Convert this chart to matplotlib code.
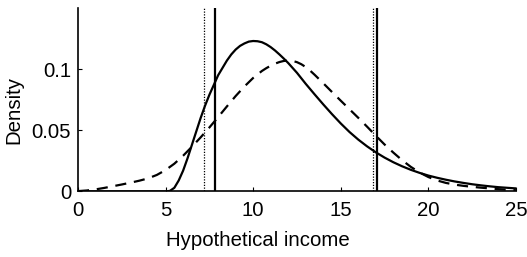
import numpy as np
import matplotlib
matplotlib.use('Agg')
import matplotlib.pyplot as plt

plt.rcParams['font.family'] = ['Liberation Sans', 'DejaVu Sans']

# solid curve, values
income_solid = [0, 1, 2, 3, 4, 5.0, 5.25, 5.5, 5.75, 6.0, 6.25, 6.5, 6.75, 7.0, 7.25,
                7.5, 7.75, 8.0, 8.25, 8.5, 8.75, 9.0, 9.25, 9.5, 9.75, 10.0, 10.25,
                10.5, 10.75, 11.0, 11.25, 11.5, 11.75, 12.0, 12.25, 12.5, 12.75, 13.0,
                13.5, 14.0, 14.5, 15.0, 15.5, 16.0, 16.5, 17.0, 17.5, 18.0, 18.5, 19.0,
                19.5, 20.0, 20.5, 21.0, 21.5, 22.0, 22.5, 23.0, 23.5, 24.0, 24.5, 25.0]
density_solid = [0, 0, 0, 0, 0, 0, 0.0005, 0.003, 0.009, 0.017, 0.027, 0.038, 0.049,
                 0.060, 0.070, 0.079, 0.087, 0.095, 0.101, 0.107, 0.112, 0.116, 0.119,
                 0.121, 0.1225, 0.123, 0.1228, 0.122, 0.1203, 0.118, 0.1152, 0.112,
                 0.1086, 0.105, 0.101, 0.097, 0.0925, 0.088, 0.0795, 0.0712, 0.0632,
                 0.0556, 0.0486, 0.0424, 0.0369, 0.032, 0.0277, 0.0239, 0.0206, 0.0177,
                 0.0152, 0.013, 0.0112, 0.0096, 0.0082, 0.0070, 0.0059, 0.0050, 0.0042,
                 0.0035, 0.003, 0.0025]

# dashed curve
income_dashed = [0, 0.5, 1, 1.5, 2, 2.5, 3, 3.5, 4, 4.5, 5, 5.5, 6, 6.5, 7, 7.5, 8,
                 8.5, 9, 9.5, 10, 10.5, 10.75, 11, 11.25, 11.5, 11.75, 12, 12.25, 12.5,
                 12.75, 13, 13.25, 13.5, 14, 14.5, 15, 15.5, 16, 16.5, 17, 17.5, 18,
                 18.5, 19, 19.5, 20, 20.5, 21, 21.5, 22, 22.5, 23, 23.5, 24, 24.5, 25]
density_dashed = [0.0003, 0.0008, 0.0017, 0.0029, 0.0043, 0.0057, 0.0072, 0.0088,
                  0.0107, 0.0135, 0.0175, 0.0227, 0.0292, 0.0365, 0.0442, 0.0523,
                  0.0608, 0.0695, 0.0780, 0.0858, 0.0928, 0.0985, 0.1008, 0.1028,
                  0.1045, 0.1058, 0.1067, 0.107, 0.1067, 0.1057, 0.1040, 0.1017,
                  0.0988, 0.0955, 0.0885, 0.0813, 0.0742, 0.0672, 0.0602, 0.0530,
                  0.0456, 0.0384, 0.0318, 0.0256, 0.0201, 0.0155, 0.0118, 0.0090,
                  0.0070, 0.0056, 0.0046, 0.0038, 0.0031, 0.0025, 0.0019, 0.0014, 0.001]

solid_marks = [7.83, 17.06]
dotted_marks = [7.2, 16.83]

xticks = [0, 5, 10, 15, 20, 25]
yticks = [0, 0.05, 0.1]
ytick_labels = ['0', '0.05', '0.1']

fig = plt.figure(figsize=(5.27, 2.57), dpi=100)
ax = fig.add_axes([0.148, 0.255, 0.831, 0.714])

for xv in dotted_marks:
    ax.plot([xv, xv], [0, 0.15], color='black', linestyle=(0, (1, 1.2)), linewidth=0.9)
for xv in solid_marks:
    ax.plot([xv, xv], [0, 0.15], color='black', linewidth=1.6)

ax.plot(income_dashed, density_dashed, color='black', linewidth=1.6,
        linestyle=(0, (5, 3.5)))
ax.plot(income_solid, density_solid, color='black', linewidth=1.6)

ax.set_xlim(0, 25)
ax.set_ylim(0, 0.15)
ax.set_xticks(xticks)
ax.set_yticks(yticks)
ax.set_yticklabels(ytick_labels)
ax.tick_params(direction='in', length=3, width=0.8, labelsize=14.7)
ax.tick_params(axis='x', pad=7)
ax.tick_params(axis='y', pad=5)
ax.spines['top'].set_visible(False)
ax.spines['right'].set_visible(False)
ax.spines['left'].set_linewidth(1.2)
ax.spines['bottom'].set_linewidth(1.2)

ax.set_xlabel('Hypothetical income', fontsize=14.7)
ax.set_ylabel('Density', fontsize=14.7)
ax.xaxis.set_label_coords(0.41, -0.215)
ax.yaxis.set_label_coords(-0.125, 0.444)

fig.savefig('out.png', dpi=100)
